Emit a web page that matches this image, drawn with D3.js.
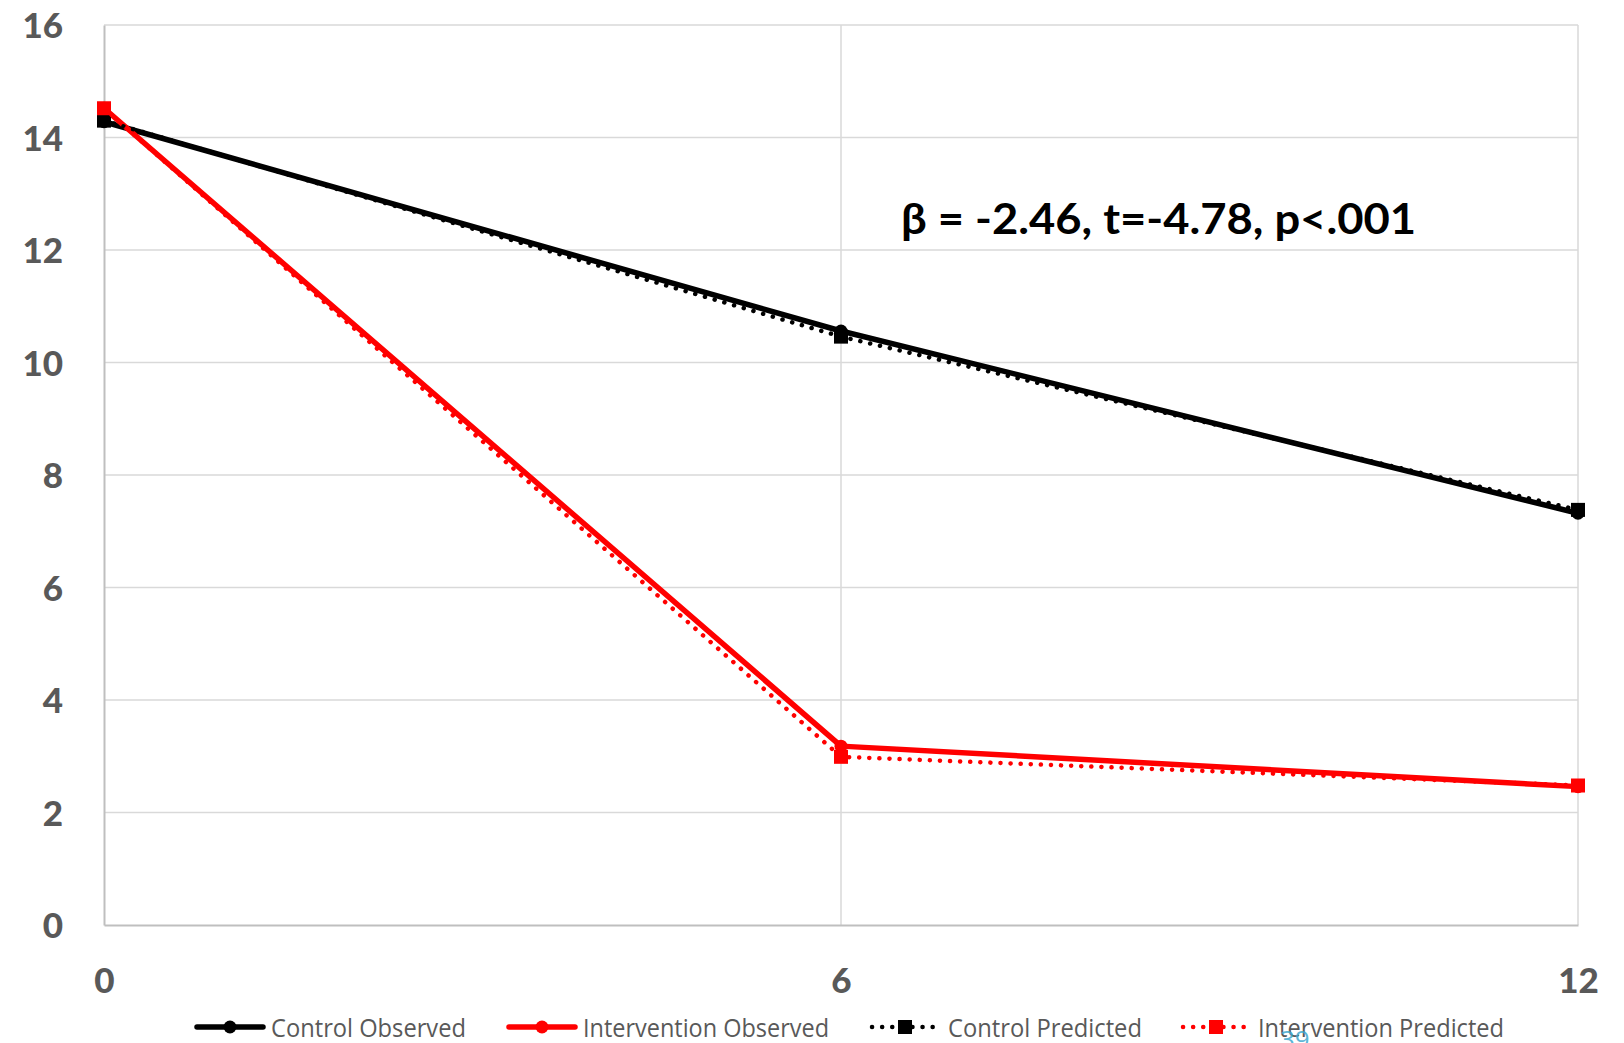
<!DOCTYPE html>
<html>
<head>
<meta charset="utf-8">
<script src="https://cdn.jsdelivr.net/npm/d3@7"></script>
<style>
  html, body { margin: 0; padding: 0; background: #fff; }
  svg { display: block; }
</style>
</head>
<body>
<svg id="chart" width="1624" height="1043"></svg>
<script>
const months = [0, 6, 12];
const xTicks = [0, 6, 12];
const yTicks = [0, 2, 4, 6, 8, 10, 12, 14, 16];
const controlObserved = [14.28, 10.56, 7.32];
const interventionObserved = [14.52, 3.18, 2.46];
const controlPredicted = [14.30, 10.46, 7.38];
const interventionPredicted = [14.52, 2.99, 2.48];
const seriesNames = ["Control Observed", "Intervention Observed", "Control Predicted", "Intervention Predicted"];
const annotation = "β = -2.46, t=-4.78, p<.001";

const series = [
  {name: seriesNames[0], values: controlObserved, color: "#000000", dotted: false, marker: "circle"},
  {name: seriesNames[1], values: interventionObserved, color: "#ff0000", dotted: false, marker: "circle"},
  {name: seriesNames[2], values: controlPredicted, color: "#000000", dotted: true, marker: "square"},
  {name: seriesNames[3], values: interventionPredicted, color: "#ff0000", dotted: true, marker: "square"}
];

const svg = d3.select("#chart");
const mLeft = 104, mRight = 1578, mTop = 25, mBottom = 925;
const x = d3.scaleLinear().domain([0, 12]).range([mLeft, mRight]);
const y = d3.scaleLinear().domain([0, 16]).range([mBottom, mTop]);

// gridlines
const grid = svg.append("g");
grid.selectAll("line.h").data(yTicks.filter(d => d > 0)).join("line")
  .attr("x1", mLeft).attr("x2", mRight)
  .attr("y1", d => y(d)).attr("y2", d => y(d))
  .attr("stroke", "#d9d9d9").attr("stroke-width", 1.5);
grid.selectAll("line.v").data(xTicks.filter(d => d > 0)).join("line")
  .attr("x1", d => x(d)).attr("x2", d => x(d))
  .attr("y1", mTop).attr("y2", mBottom)
  .attr("stroke", "#d9d9d9").attr("stroke-width", 1.5);

// axes
const yAxis = d3.axisLeft(y).tickValues(yTicks).tickSize(0).tickPadding(41).tickFormat(d3.format("d"));
const gy = svg.append("g").attr("transform", `translate(${mLeft},0)`).call(yAxis);
gy.select(".domain").attr("stroke", "#bfbfbf").attr("stroke-width", 2);
gy.selectAll("text").attr("fill", "#595959").attr("font-family", "Lato, 'Open Sans', sans-serif")
  .attr("font-weight", "900").attr("font-size", 35).attr("dy", "0.36em");

const xAxis = d3.axisBottom(x).tickValues(xTicks).tickSize(0).tickPadding(0).tickFormat(d3.format("d"));
const gx = svg.append("g").attr("transform", `translate(0,${mBottom})`).call(xAxis);
gx.select(".domain").attr("stroke", "#bfbfbf").attr("stroke-width", 2);
gx.selectAll("text").attr("fill", "#595959").attr("font-family", "Lato, 'Open Sans', sans-serif")
  .attr("font-weight", "900").attr("font-size", 35).attr("dy", null).attr("y", 68);

// lines
const line = d3.line().x((d, i) => x(months[i])).y(d => y(d));
const plot = svg.append("g");
series.forEach(s => {
  const g = plot.append("g");
  g.append("path").datum(s.values)
    .attr("d", line).attr("fill", "none")
    .attr("stroke", s.color)
    .attr("stroke-width", s.dotted ? 4.5 : 5.5)
    .attr("stroke-linecap", "round")
    .attr("stroke-linejoin", "round")
    .attr("stroke-dasharray", s.dotted ? "0.1 10" : null);
  if (s.marker === "circle") {
    g.selectAll("circle").data(s.values).join("circle")
      .attr("cx", (d, i) => x(months[i])).attr("cy", d => y(d)).attr("r", 6.5)
      .attr("fill", s.color);
  } else {
    g.selectAll("rect").data(s.values).join("rect")
      .attr("x", (d, i) => x(months[i]) - 7).attr("y", d => y(d) - 7)
      .attr("width", 14).attr("height", 14).attr("fill", s.color);
  }
});

// annotation
svg.append("text").attr("x", 901).attr("y", 234)
  .attr("font-family", "Lato, 'Open Sans', sans-serif").attr("font-weight", "bold")
  .attr("font-size", 42).attr("fill", "#000")
  .attr("textLength", 515).attr("lengthAdjust", "spacingAndGlyphs")
  .text(annotation);

// legend
const legendItems = [
  {sx: 195, tx: 271, tw: 195},
  {sx: 507, tx: 583, tw: 246},
  {sx: 870, tx: 948, tw: 194},
  {sx: 1181, tx: 1258, tw: 246}
];
const ly = 1027;
const legend = svg.append("g");
series.forEach((s, i) => {
  const it = legendItems[i];
  const g = legend.append("g");
  g.append("line").attr("x1", it.sx + 2).attr("x2", it.sx + 68)
    .attr("y1", ly).attr("y2", ly)
    .attr("stroke", s.color).attr("stroke-width", s.dotted ? 4.5 : 5.5)
    .attr("stroke-linecap", "round")
    .attr("stroke-dasharray", s.dotted ? "0.1 10" : null);
  if (s.marker === "circle") {
    g.append("circle").attr("cx", it.sx + 35).attr("cy", ly).attr("r", 6.5).attr("fill", s.color);
  } else {
    g.append("rect").attr("x", it.sx + 28).attr("y", ly - 7).attr("width", 14).attr("height", 14).attr("fill", s.color);
  }
  g.append("text").attr("x", it.tx).attr("y", ly + 10)
    .attr("font-family", "'Liberation Sans Narrow', 'Open Sans', sans-serif")
    .attr("font-size", 26).attr("fill", "#595959")
    .attr("textLength", it.tw).attr("lengthAdjust", "spacingAndGlyphs")
    .text(s.name);
});

// slide number (partially cut off at bottom)
svg.append("text").attr("x", 1280).attr("y", 1049)
  .attr("font-family", "'Open Sans', sans-serif").attr("font-size", 26)
  .attr("fill", "#3fa9cf").attr("fill-opacity", 0.85).text("39");
</script>
</body>
</html>
